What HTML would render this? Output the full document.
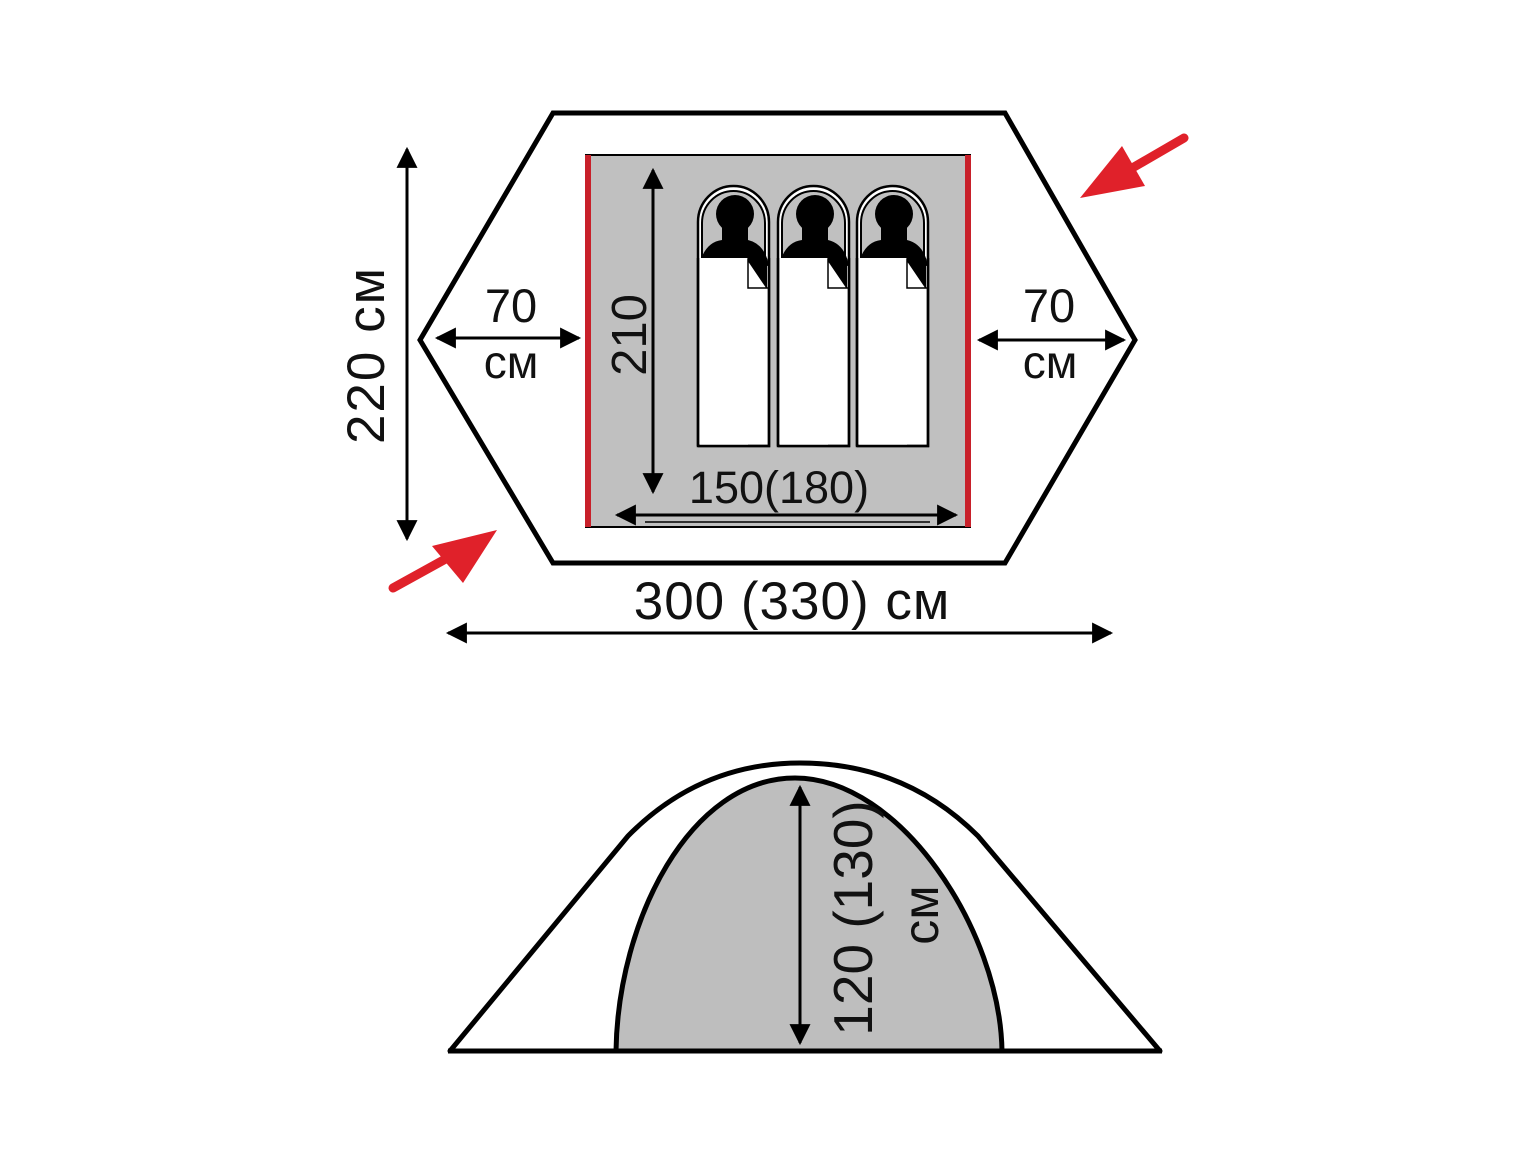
<!DOCTYPE html>
<html><head><meta charset="utf-8"><style>
html,body{margin:0;padding:0;background:#fff;}
svg{display:block;}
text{font-family:"Liberation Sans",Arial,sans-serif;fill:#111;}
</style></head><body>
<svg width="1536" height="1153" viewBox="0 0 1536 1153" xmlns="http://www.w3.org/2000/svg">
<defs>
<marker id="ah2" viewBox="0 0 10 10" refX="9" refY="5" markerWidth="8" markerHeight="7" orient="auto-start-reverse" markerUnits="strokeWidth">
<path d="M0,0 L10,5 L0,10 Z" fill="#000"/></marker>
<g id="bag">
<path d="M698,446 V222 A35.5,36 0 0 1 769,222 V446 Z" fill="#fff" stroke="#000" stroke-width="2.5"/>
<path d="M702,258 V223 A31.5,32 0 0 1 765,223 V258" fill="#c0c0c0" stroke="#000" stroke-width="2"/>
<circle cx="735" cy="214" r="19" fill="#000"/>
<path d="M722,226 L722,240 Q706,242 700,262 L769,266 Q765,244 748,240 L748,226 Z" fill="#000"/>
<path d="M748,258 L767,258 L767,288 L748,288 Z" fill="#000"/>
<rect x="700" y="258" width="48" height="188" fill="#fff"/>
<path d="M748,260 L748,288 L767,288 Z" fill="#fff" stroke="#000" stroke-width="1.5"/>
<path d="M698,446 V258 M769,258 V446 H698" fill="none" stroke="#000" stroke-width="2.5"/>
</g>
</defs>

<polygon points="553,113 1005,113 1135,340 1005,563 553,563 420,340" fill="#fff" stroke="#000" stroke-width="5" stroke-linejoin="miter"/>
<rect x="586" y="155" width="384" height="372" fill="#c0c0c0" stroke="#000" stroke-width="2"/>
<rect x="585" y="155" width="6" height="372" fill="#c8202a"/>
<rect x="965" y="155" width="6" height="372" fill="#c8202a"/>

<use href="#bag"/>
<use href="#bag" x="80"/>
<use href="#bag" x="159"/>

<line x1="653" y1="170" x2="653" y2="492" stroke="#000" stroke-width="3" marker-start="url(#ah2)" marker-end="url(#ah2)"/>
<text transform="translate(646,335) rotate(-90)" text-anchor="middle" font-size="49">210</text>
<text x="779" y="503" text-anchor="middle" font-size="45">150(180)</text>
<line x1="617" y1="515" x2="956" y2="515" stroke="#000" stroke-width="3" marker-start="url(#ah2)" marker-end="url(#ah2)"/>
<line x1="645" y1="522" x2="930" y2="522" stroke="#000" stroke-width="1.5"/>

<line x1="437" y1="338" x2="579" y2="338" stroke="#000" stroke-width="3" marker-start="url(#ah2)" marker-end="url(#ah2)"/>
<text x="511" y="322" text-anchor="middle" font-size="47">70</text>
<text x="511" y="378" text-anchor="middle" font-size="46">см</text>
<line x1="979" y1="340" x2="1124" y2="340" stroke="#000" stroke-width="3" marker-start="url(#ah2)" marker-end="url(#ah2)"/>
<text x="1049" y="322" text-anchor="middle" font-size="47">70</text>
<text x="1050" y="378" text-anchor="middle" font-size="46">см</text>

<line x1="407" y1="149" x2="407" y2="539" stroke="#000" stroke-width="3" marker-start="url(#ah2)" marker-end="url(#ah2)"/>
<text transform="translate(384,355) rotate(-90)" text-anchor="middle" font-size="53" letter-spacing="2">220 см</text>

<text x="792" y="619" text-anchor="middle" font-size="53" letter-spacing="1">300 (330) см</text>
<line x1="448" y1="633" x2="1111" y2="633" stroke="#000" stroke-width="3" marker-start="url(#ah2)" marker-end="url(#ah2)"/>

<line x1="1184" y1="138" x2="1115" y2="178" stroke="#e0212a" stroke-width="9" stroke-linecap="round"/>
<polygon points="1080,198 1122,146 1145,186" fill="#e0212a"/>
<line x1="393" y1="588" x2="460" y2="551" stroke="#e0212a" stroke-width="9" stroke-linecap="round"/>
<polygon points="497,530 432,546 463,583" fill="#e0212a"/>

<path d="M450,1051 L628,836 Q700,763 800,763 Q905,763 978,836 L1160,1051 Z" fill="#fff" stroke="#000" stroke-width="5" stroke-linejoin="round"/>
<path d="M616,1051 C618,920 690,778 795,778 C900,778 1000,930 1002,1051 Z" fill="#bebebe" stroke="#000" stroke-width="5"/>
<line x1="448" y1="1051" x2="1162" y2="1051" stroke="#000" stroke-width="5"/>
<line x1="800" y1="787" x2="800" y2="1043" stroke="#000" stroke-width="3" marker-start="url(#ah2)" marker-end="url(#ah2)"/>
<text transform="translate(872,918) rotate(-90)" text-anchor="middle" font-size="55">120 (130)</text>
<text transform="translate(938,915) rotate(-90)" text-anchor="middle" font-size="50">см</text>
</svg>
</body></html>
